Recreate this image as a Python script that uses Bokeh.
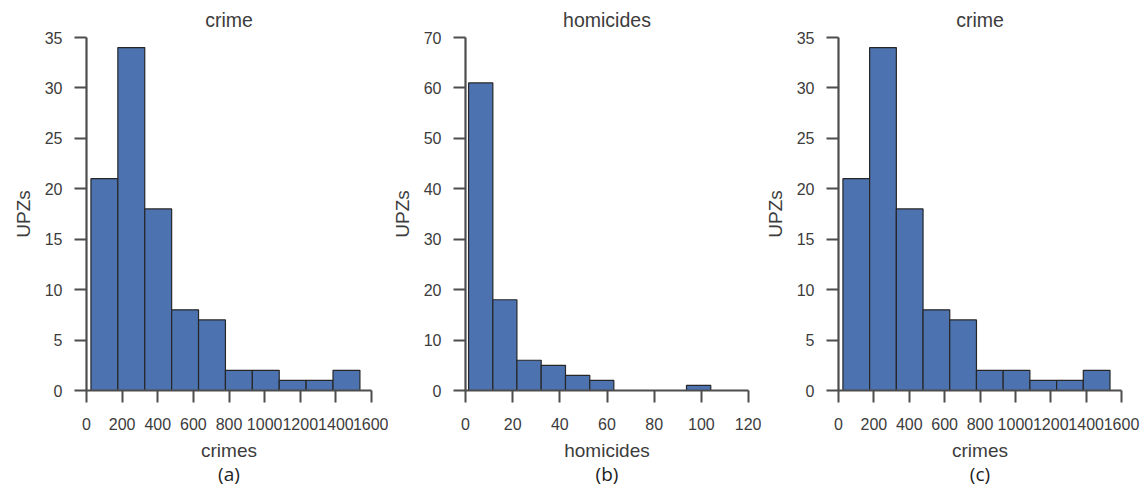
from bokeh.plotting import figure
from bokeh.layouts import row
from bokeh.models import Range1d, FixedTicker, Title, ColumnDataSource
from bokeh.embed import file_html
from bokeh.resources import INLINE

# ---- data ----
crime_edges = [25, 176, 327, 478, 629, 780, 931, 1082, 1233, 1384, 1535]
crime_counts = [21, 34, 18, 8, 7, 2, 2, 1, 1, 2]

hom_edges = [1.3, 11.6, 21.8, 32.1, 42.4, 52.7, 62.9, 73.2, 83.5, 93.7, 104.0]
hom_counts = [61, 18, 6, 5, 3, 2, 0, 0, 0, 1]

crime_xticks = [0, 200, 400, 600, 800, 1000, 1200, 1400, 1600]
crime_yticks = [0, 5, 10, 15, 20, 25, 30, 35]
hom_xticks = [0, 20, 40, 60, 80, 100, 120]
hom_yticks = [0, 10, 20, 30, 40, 50, 60, 70]

FONT = "Liberation Sans"
AX = "#4d4d4d"
TXT = "#3c3c3c"


def panel(edges, counts, xticks, yticks, title, xlabel, tag, width, bl, br):
    p = figure(width=width, height=489, output_backend="svg", toolbar_location=None,
               x_range=Range1d(xticks[0], xticks[-1]), y_range=Range1d(yticks[0], yticks[-1]),
               min_border_left=bl, min_border_right=br, min_border_top=37, min_border_bottom=99)
    p.title.text = title
    p.title.align = "center"
    p.title.text_font = FONT
    p.title.text_font_size = "19.5px"
    p.title.text_font_style = "normal"
    p.title.text_color = TXT
    p.title.standoff = 13

    src = ColumnDataSource(dict(left=edges[:-1], right=edges[1:], top=counts,
                                bottom=[0] * len(counts)))
    p.quad(left="left", right="right", top="top", bottom="bottom", source=src,
           fill_color="#4C72B0", line_color="#262626", line_width=1.2)

    p.xgrid.visible = False
    p.ygrid.visible = False
    p.outline_line_color = None
    p.background_fill_color = "white"

    p.xaxis.ticker = FixedTicker(ticks=xticks)
    p.yaxis.ticker = FixedTicker(ticks=yticks)
    p.xaxis.axis_label = xlabel
    p.yaxis.axis_label = "UPZs"
    for ax in (p.xaxis[0], p.yaxis[0]):
        ax.axis_line_color = AX
        ax.axis_line_width = 2.2
        ax.major_tick_line_color = AX
        ax.major_tick_line_width = 2
        ax.major_tick_out = 12
        ax.major_tick_in = 0
        ax.minor_tick_line_color = None
        ax.major_label_text_font = FONT
        ax.major_label_text_font_size = "16px"
        ax.major_label_text_color = TXT
        ax.axis_label_text_font = FONT
        ax.axis_label_text_font_size = "19px"
        ax.axis_label_text_font_style = "normal"
        ax.axis_label_text_color = TXT
    p.xaxis.major_label_standoff = 15
    p.xaxis.axis_label_standoff = 7
    p.yaxis.major_label_standoff = 12
    p.yaxis.axis_label_standoff = 8

    t = Title(text=tag, align="center", text_font="Open Sans", text_font_size="19px",
              text_font_style="normal", text_color="#222222", standoff=-10)
    p.add_layout(t, "below")
    return p


pa = panel(crime_edges, crime_counts, crime_xticks, crime_yticks, "crime", "crimes", "(a)", 388, 86, 17)
pb = panel(hom_edges, hom_counts, hom_xticks, hom_yticks, "homicides", "homicides", "(b)", 373, 74, 13)
pc = panel(crime_edges, crime_counts, crime_xticks, crime_yticks, "crime", "crimes", "(c)", 384, 74, 24)

layout = row(pa, pb, pc)
open("out.html", "w").write(file_html(layout, INLINE))
